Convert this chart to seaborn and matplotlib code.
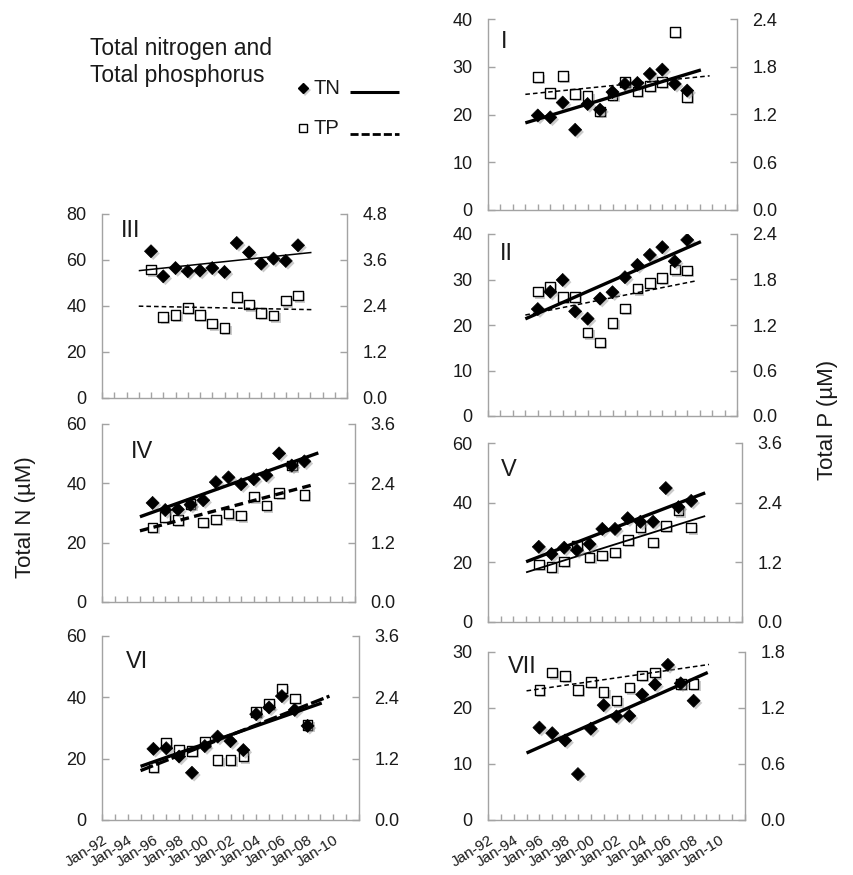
import numpy as np
import pandas as pd
import matplotlib
matplotlib.use("Agg")
import matplotlib.pyplot as plt
import matplotlib.patheffects as pe
from matplotlib.lines import Line2D
import seaborn as sns

# Annual means, one value per year (January sampling)
years = [1996, 1997, 1998, 1999, 2000, 2001, 2002, 2003, 2004, 2005, 2006, 2007, 2008]

# Total nitrogen (µM)
tn_I = [19.8, 19.4, 22.5, 16.8, 22.2, 21.0, 24.7, 26.4, 26.6, 28.5, 29.4, 26.4, 25.0]
tn_II = [23.5, 27.3, 29.9, 23.0, 21.4, 25.8, 27.2, 30.5, 33.2, 35.4, 37.1, 34.0, 38.7]
tn_III = [63.8, 52.9, 56.5, 55.1, 55.4, 56.5, 54.8, 67.4, 63.3, 58.4, 60.6, 59.6, 66.4]
tn_IV = [33.4, 31.0, 31.2, 32.8, 34.3, 40.4, 42.0, 39.7, 41.4, 42.7, 50.1, 46.0, 47.4]
tn_V = [25.2, 22.8, 24.9, 24.1, 26.1, 31.2, 31.2, 34.8, 33.6, 33.6, 44.9, 38.5, 40.6]
tn_VI = [23.2, 23.4, 20.7, 15.4, 24.1, 27.2, 25.7, 22.8, 34.5, 36.7, 40.4, 35.9, 30.7]
tn_VII = [16.5, 15.5, 14.2, 8.2, 16.3, 20.5, 18.5, 18.6, 22.4, 24.2, 27.7, 24.4, 21.3]

# Total phosphorus (µM)
tp_I = [1.67, 1.47, 1.68, 1.46, 1.43, 1.24, 1.44, 1.61, 1.49, 1.56, 1.61, 2.24, 1.42]
tp_II = [1.64, 1.70, 1.57, 1.57, 1.10, 0.97, 1.23, 1.42, 1.68, 1.75, 1.82, 1.93, 1.92]
tp_III = [3.35, 2.11, 2.17, 2.35, 2.17, 1.94, 1.82, 2.63, 2.44, 2.22, 2.15, 2.54, 2.67]
tp_IV = [1.51, 1.72, 1.66, 1.98, 1.61, 1.67, 1.79, 1.75, 2.13, 1.95, 2.21, 2.76, 2.17]
tp_V = [1.16, 1.11, 1.22, 1.54, 1.30, 1.34, 1.40, 1.65, 1.90, 1.60, 1.93, 2.24, 1.90]
tp_VI = [1.04, 1.51, 1.38, 1.35, 1.52, 1.17, 1.18, 1.24, 2.11, 2.27, 2.57, 2.38, 1.86]
tp_VII = [1.39, 1.58, 1.54, 1.39, 1.48, 1.37, 1.28, 1.42, 1.55, 1.58, 2.30, 1.46, 1.46]

# Axis ranges: (TN max, TN step, TP max, TP step)
ranges = {
    "I": (40, 10, 2.4, 0.6),
    "II": (40, 10, 2.4, 0.6),
    "III": (80, 20, 4.8, 1.2),
    "IV": (60, 20, 3.6, 1.2),
    "V": (60, 20, 3.6, 1.2),
    "VI": (60, 20, 3.6, 1.2),
    "VII": (30, 10, 1.8, 0.6),
}

date_ticks = list(range(1992, 2013))
date_labels = [f"Jan-{y % 100:02d}" if (y % 2 == 0 and y <= 2010) else "" for y in date_ticks]

sns.set_theme(style="white")
plt.rcParams["font.family"] = ["Liberation Sans", "DejaVu Sans"]

W, H = 854, 875
fig = plt.figure(figsize=(W / 100, H / 100), dpi=100)

SPINE = "#a3a3a3"
shadow = [pe.SimplePatchShadow(offset=(1.6, -1.6), shadow_rgbFace="0.55", alpha=0.45), pe.Normal()]


def px_axes(l, t, r, b):
    return fig.add_axes([l / W, 1 - b / H, (r - l) / W, (b - t) / H])


def trend(x, y, x0, x1):
    k, c = np.polyfit(x, y, 1)
    xs = np.array([x0, x1])
    return xs, k * xs + c


# name, tn, tp, box (l, t, r, b px), TN width, TP style, TP end, numeral pos, date labels
panels = [
    ("I", tn_I, tp_I, (488, 19, 737, 210), 2.4, dict(lw=1.1, dashes=(3, 2)), 2009.8, (501, 31), False),
    ("II", tn_II, tp_II, (488, 234, 737, 416), 2.4, dict(lw=1.1, dashes=(3, 2)), 2008.8, (500, 243), False),
    ("III", tn_III, tp_III, (102, 214, 347, 398), 1.1, dict(lw=1.1, dashes=(3, 2)), 2009.1, (121, 220), False),
    ("IV", tn_IV, tp_IV, (102, 424, 355, 602), 2.4, dict(lw=2.4, dashes=(2.6, 1.6)), 2008.7, (131, 441), False),
    ("V", tn_V, tp_V, (488, 443, 742, 622), 2.4, dict(lw=1.3, dashes=()), 2009.1, (501, 459), False),
    ("VI", tn_VI, tp_VI, (102, 636, 359, 820), 2.4, dict(lw=2.4, dashes=(4, 1.0)), 2009.7, (126, 651), True),
    ("VII", tn_VII, tp_VII, (488, 652, 745, 820), 2.4, dict(lw=1.1, dashes=(3, 2)), 2009.2, (508, 656), True),
]

for name, tn, tp, box, tn_lw, tp_style, tp_end, npos, show_dates in panels:
    nmax, nstep, pmax, pstep = ranges[name]
    ax = px_axes(*box)
    ax2 = ax.twinx()
    ax.set_zorder(ax2.get_zorder() + 1)
    ax.patch.set_visible(False)

    df = pd.DataFrame({"year": years, "TN": tn, "TP": tp})

    # TP on the right axis (drawn beneath)
    sns.scatterplot(data=df, x="year", y="TP", ax=ax2, marker="s", s=48,
                    facecolor="white", edgecolor="black", linewidth=1.0, legend=False)
    ax2.collections[-1].set_path_effects(shadow)
    xs, ys = trend(df["year"], df["TP"], 1995.0, tp_end)
    ln, = ax2.plot(xs, ys, color="black", lw=tp_style["lw"], solid_capstyle="butt")
    if tp_style["dashes"]:
        ln.set_dashes(tp_style["dashes"])

    # TN on the left axis
    sns.scatterplot(data=df, x="year", y="TN", ax=ax, marker="D", s=44,
                    color="black", edgecolor="black", linewidth=0.5, legend=False)
    ax.collections[-1].set_path_effects(shadow)
    xs, ys = trend(df["year"], df["TN"], 1995.0, 2009.1)
    ax.plot(xs, ys, color="black", lw=tn_lw, solid_capstyle="butt")

    ax.set_xlim(1992, 2012)
    ax.set_ylim(0, nmax)
    ax2.set_ylim(0, pmax)
    ax.set_yticks(np.arange(0, nmax + 0.01, nstep))
    ax2.set_yticks(np.arange(0, pmax + 0.001, pstep))
    ax.set_yticklabels([f"{v:g}" for v in np.arange(0, nmax + 0.01, nstep)])
    ax2.set_yticklabels([f"{v:.1f}" for v in np.arange(0, pmax + 0.001, pstep)])
    ax.set_xticks(date_ticks)
    if show_dates:
        ax.set_xticklabels(date_labels, rotation=32, ha="right", rotation_mode="anchor",
                           fontsize=11)
    else:
        ax.set_xticklabels([])
    ax.set_xlabel("")
    ax.set_ylabel("")
    ax2.set_ylabel("")

    for a in (ax, ax2):
        for s in a.spines.values():
            s.set_color(SPINE)
            s.set_linewidth(1.0)
        a.spines["top"].set_visible(False)
    ax2.spines["left"].set_visible(False)
    ax2.spines["bottom"].set_visible(False)
    ax.spines["right"].set_visible(False)

    ax.tick_params(axis="y", direction="in", length=5, width=1.0, color=SPINE,
                   labelsize=13, pad=11, left=True, labelcolor="#1a1a1a")
    ax.tick_params(axis="x", direction="in", length=4, width=1.0, color=SPINE,
                   bottom=True, pad=9, labelcolor="#1a1a1a")
    ax2.tick_params(axis="y", direction="in", length=5, width=1.0, color=SPINE,
                    labelsize=13, pad=11, right=True, labelcolor="#1a1a1a")
    ax.grid(False)
    ax2.grid(False)

    fig.text(npos[0] / W, 1 - npos[1] / H, name, fontsize=17, va="top", ha="left",
             color="#1a1a1a")

# Title and key
fig.text(90 / W, 1 - 82 / H, "Total nitrogen and\nTotal phosphorus", fontsize=16.5,
         va="baseline", ha="left", linespacing=1.25, color="#1a1a1a")

fig.add_artist(Line2D([303 / W], [1 - 88 / H], marker="D", ms=5.5, color="black",
                      transform=fig.transFigure, path_effects=shadow))
fig.text(313 / W, 1 - 88 / H, "TN", fontsize=14.5, va="center", ha="left", color="#1a1a1a")
fig.add_artist(Line2D([350 / W, 399 / W], [1 - 92 / H, 1 - 92 / H], color="black", lw=2.2,
                      transform=fig.transFigure, solid_capstyle="butt"))

fig.add_artist(Line2D([303 / W], [1 - 128 / H], marker="s", ms=5.5, mfc="white", mec="black",
                      mew=1.0, color="black", transform=fig.transFigure))
fig.text(313 / W, 1 - 128 / H, "TP", fontsize=14.5, va="center", ha="left", color="#1a1a1a")
fig.add_artist(Line2D([350 / W, 399 / W], [1 - 134 / H, 1 - 134 / H], color="black", lw=2.0,
                      dashes=(2.9, 1.1), transform=fig.transFigure))

fig.text(26 / W, 1 - 517 / H, "Total N (\u00b5M)", fontsize=16, rotation=90,
         va="center", ha="center", color="#1a1a1a")
fig.text(828 / W, 1 - 420 / H, "Total P (\u00b5M)", fontsize=16, rotation=90,
         va="center", ha="center", color="#1a1a1a")

fig.savefig("out.png", dpi=100)
